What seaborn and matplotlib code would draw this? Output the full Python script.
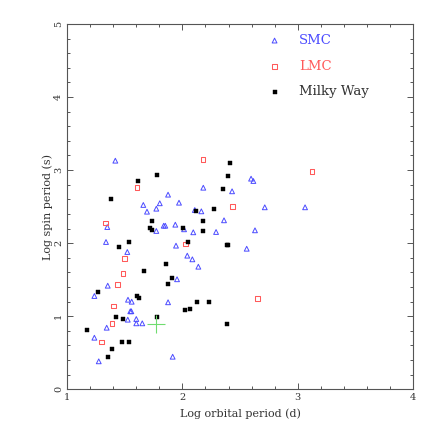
import matplotlib
matplotlib.use("Agg")
import matplotlib.pyplot as plt
import seaborn as sns
import numpy as np
from matplotlib.ticker import MultipleLocator

# ---- data (log orbital period [d], log spin period [s]) ----
smc_x = [1.417, 2.181, 2.431, 1.875, 1.970, 1.803, 1.660, 1.773, 2.107, 2.164,
         1.692, 2.361, 1.347, 1.837, 1.851, 1.938, 1.773, 2.014, 2.094, 2.292,
         1.336, 1.944, 1.521, 2.042, 2.086, 2.138, 1.953, 2.596, 2.616, 2.715,
         3.065, 2.630, 2.558, 1.351, 1.235, 1.527, 1.559, 1.875, 1.547, 1.556,
         1.525, 1.599, 1.599, 1.651, 1.342, 1.235, 1.273, 1.915]
smc_y = [3.129, 2.759, 2.710, 2.664, 2.554, 2.546, 2.523, 2.472, 2.454, 2.436,
         2.431, 2.313, 2.221, 2.239, 2.239, 2.253, 2.167, 2.190, 2.149, 2.153,
         2.016, 1.966, 1.879, 1.829, 1.779, 1.678, 1.506, 2.883, 2.851, 2.491,
         2.491, 2.176, 1.924, 1.418, 1.277, 1.226, 1.199, 1.191, 1.068, 1.068,
         0.953, 0.962, 0.903, 0.903, 0.843, 0.706, 0.383, 0.446]

lmc_x = [2.179, 1.605, 2.437, 1.334, 2.025, 1.499, 1.484, 1.434, 1.403, 1.388,
         1.299, 2.654, 3.125]
lmc_y = [3.148, 2.759, 2.505, 2.276, 1.989, 1.793, 1.588, 1.437, 1.140, 0.903,
         0.647, 1.240, 2.984]

mw_x = [2.416, 1.782, 2.398, 1.614, 2.350, 1.377, 2.272, 2.120, 1.738, 2.176,
        1.718, 1.736, 2.005, 2.179, 1.536, 2.046, 2.385, 2.398, 1.446, 1.857,
        1.664, 1.907, 1.872, 1.267, 1.605, 1.625, 2.124, 2.228, 2.025, 2.066,
        1.423, 1.486, 1.782, 1.174, 2.390, 1.472, 1.533, 1.386, 1.354]
mw_y = [3.097, 2.937, 2.924, 2.847, 2.737, 2.609, 2.468, 2.436, 2.299, 2.308,
        2.212, 2.184, 2.208, 2.163, 2.020, 2.020, 1.975, 1.971, 1.952, 1.719,
        1.623, 1.519, 1.437, 1.328, 1.277, 1.250, 1.191, 1.199, 1.090, 1.095,
        0.994, 0.966, 0.994, 0.808, 0.894, 0.647, 0.643, 0.552, 0.442]

cross_x = [1.768]
cross_y = [0.894]

series_labels = ["SMC", "LMC", "Milky Way"]
x_label = "Log orbital period (d)"
y_label = "Log spin period (s)"

# ---- style ----
sns.set_style("ticks")
plt.rcParams["font.family"] = ["DejaVu Serif"]

SMC_C = "#4b4bff"
LMC_C = "#ff5a5a"
MW_C = "#000000"
AX_C = "#555555"

fig = plt.figure(figsize=(4.36, 4.36), dpi=100)
ax = fig.add_axes([0.1544, 0.1071, 0.7922, 0.8379])

sns.scatterplot(x=smc_x, y=smc_y, ax=ax, marker="^", s=12,
                facecolors="none", edgecolors=SMC_C, linewidth=0.7,
                label=series_labels[0])
sns.scatterplot(x=lmc_x, y=lmc_y, ax=ax, marker="s", s=12,
                facecolors="none", edgecolors=LMC_C, linewidth=0.75,
                label=series_labels[1])
sns.scatterplot(x=mw_x, y=mw_y, ax=ax, marker="s", s=8,
                color=MW_C, edgecolor=MW_C, linewidth=0.3,
                label=series_labels[2])
sns.scatterplot(x=cross_x, y=cross_y, ax=ax, marker="+", s=170,
                color="#6fdc6f", linewidth=0.8, legend=False)

ax.set_xlim(1, 4)
ax.set_ylim(0, 5)
ax.xaxis.set_major_locator(MultipleLocator(1))
ax.xaxis.set_minor_locator(MultipleLocator(0.2))
ax.yaxis.set_major_locator(MultipleLocator(1))
ax.yaxis.set_minor_locator(MultipleLocator(0.2))

for sp in ax.spines.values():
    sp.set_color(AX_C)
    sp.set_linewidth(0.8)

ax.tick_params(which="both", direction="in", top=True, right=True,
               color=AX_C, width=0.7)
ax.tick_params(which="major", length=4.5, labelsize=7, pad=3,
               labelcolor="#333333")
ax.tick_params(which="minor", length=2.2)
for lab in ax.get_yticklabels():
    lab.set_rotation(90)
    lab.set_va("center")

ax.set_xlabel(x_label, fontsize=8, color="#333333", labelpad=4)
ax.set_ylabel(y_label, fontsize=8, color="#333333", labelpad=1)

leg = ax.legend(loc="upper left", bbox_to_anchor=(0.537, 1.005),
                frameon=False, fontsize=9.5, handletextpad=1.1,
                labelspacing=0.95, handlelength=1.5,
                labelcolor=[SMC_C, LMC_C, "#333333"], markerscale=1.0)

fig.savefig("out.png", dpi=100, facecolor="white")
